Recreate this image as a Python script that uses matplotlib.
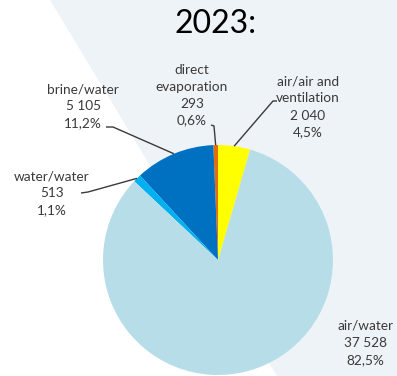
import numpy as np
import matplotlib
matplotlib.use("Agg")
import matplotlib.pyplot as plt
from matplotlib.patches import Polygon

# Heat pump sales by type, 2023
categories = ["direct\nevaporation", "brine/water", "water/water", "air/water",
              "air/air and\nventilation"]
values = [293, 5105, 513, 37528, 2040]
colors = ["#E46C0A", "#0070C0", "#00B0F0", "#B7DEE8", "#FFFF00"]
title = "2023:"

W, H = 397, 376
plt.rcParams["font.family"] = ["Lato", "DejaVu Sans"]
fig = plt.figure(figsize=(W / 100, H / 100), dpi=100)
fig.patch.set_facecolor("white")

# light diagonal backdrop
bg = Polygon([(50 / W, 1), (1, 1), (1, 0), (277 / W, 0)], closed=True,
             transform=fig.transFigure, facecolor="#EEF3F7",
             edgecolor="none", zorder=-10)
fig.patches.append(bg)

fig.text(216 / W, 1 - 24 / H, title, ha="center", va="center",
         fontsize=23, color="black")

cx, cy, R = 218, 260, 115
ax = fig.add_axes([(cx - R) / W, (H - cy - R) / H, 2 * R / W, 2 * R / H])
wedges, _ = ax.pie(values, colors=colors, startangle=90, counterclock=True,
                   radius=1, wedgeprops=dict(linewidth=0))
ax.set_xlim(-1, 1)
ax.set_ylim(-1, 1)
ax.set_aspect("auto")
ax.axis("off")


def to_data(x, y):
    return (x - cx) / R, (cy - y) / R


total = sum(values)
labels = []
for name, v in zip(categories, values):
    num = f"{v:,}".replace(",", " ")
    pct = f"{100 * v / total:.1f}".replace(".", ",") + "%"
    labels.append(f"{name}\n{num}\n{pct}")

# label block centres and leader-line elbows, in pixels
label_pos = [(192, 95), (83, 106), (52, 193), (365, 343), (308, 107)]
leaders = [
    [(211, 125), (214, 126)],
    [(106, 127), (113, 127)],
    [(81, 193), (88, 192)],
    None,
    [(277, 101), (273, 101)],
]

for w, lab, pos, lead in zip(wedges, labels, label_pos, leaders):
    tx, ty = to_data(*pos)
    ax.text(tx, ty, lab, ha="center", va="center", fontsize=9.8,
            color="#3a3a3a", linespacing=1.5, clip_on=False)
    if lead is None:
        continue
    ang = np.deg2rad((w.theta1 + w.theta2) / 2)
    pts = [to_data(*p) for p in lead] + [(np.cos(ang), np.sin(ang))]
    xs, ys = zip(*pts)
    ax.plot(xs, ys, color="#3a3a3a", lw=1, clip_on=False,
            solid_capstyle="butt")

fig.savefig("out.png", dpi=100)
